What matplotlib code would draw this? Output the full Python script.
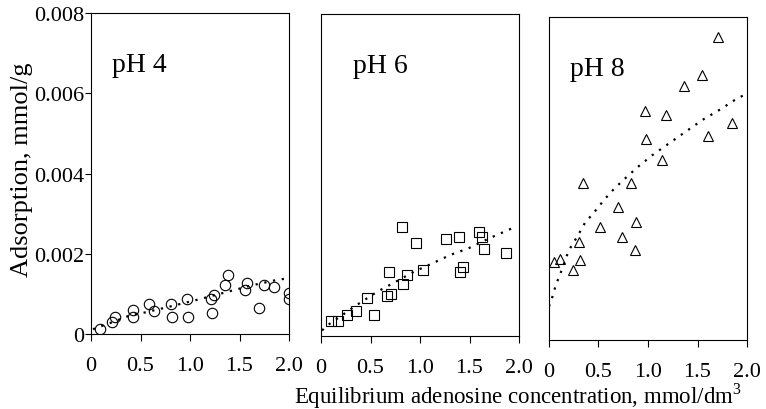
import matplotlib
matplotlib.use("Agg")
import matplotlib.pyplot as plt

plt.rcParams['font.family'] = ['Liberation Serif', 'DejaVu Serif']
plt.rcParams['mathtext.fontset'] = 'custom'
plt.rcParams['mathtext.rm'] = 'Liberation Serif'

# pH 4 (circles)
x4 = [0.09, 0.21, 0.24, 0.42, 0.42, 0.59, 0.64, 0.81, 0.82, 0.97, 0.98,
      1.21, 1.22, 1.24, 1.35, 1.38, 1.56, 1.58, 1.70, 1.75, 1.85, 2.0, 2.0]
y4 = [0.00012, 0.00029, 0.00042, 0.00060, 0.00042, 0.00075, 0.00058, 0.00074,
      0.00042, 0.00087, 0.00042, 0.00087, 0.00052, 0.00098, 0.00122, 0.00146,
      0.00110, 0.00126, 0.00065, 0.00121, 0.00116, 0.00101, 0.00087]
fit4_x = [0.02, 0.2, 0.4, 0.55, 0.74, 1.1, 1.36, 1.62, 1.88, 2.0]
fit4_y = [0.00012, 0.00028, 0.00047, 0.00054, 0.00065, 0.00087, 0.00104, 0.00121, 0.00135, 0.00139]

# pH 6 (squares)
x6 = [0.10, 0.175, 0.26, 0.35, 0.46, 0.54, 0.67, 0.71, 0.69, 0.83, 0.87,
      0.82, 0.96, 1.03, 1.26, 1.39, 1.40, 1.43, 1.60, 1.63, 1.65, 1.87]
y6 = [0.00037, 0.00037, 0.00052, 0.00062, 0.00094, 0.00052, 0.00100, 0.00105,
      0.00159, 0.00130, 0.00152, 0.00270, 0.00232, 0.00165, 0.00242, 0.00247,
      0.00159, 0.00172, 0.00258, 0.00247, 0.00217, 0.00206]
fit6_x = [0.01, 0.09, 0.185, 0.36, 0.56, 0.74, 0.94, 1.12, 1.31, 1.49, 1.70, 1.96]
fit6_y = [0.00014, 0.00031, 0.00047, 0.00077, 0.00109, 0.00133, 0.00160, 0.00180,
          0.00202, 0.00218, 0.00243, 0.00271]

# pH 8 (triangles)
x8 = [1.71, 1.55, 1.36, 0.97, 1.18, 1.85, 0.98, 1.61, 1.14, 0.34, 0.83,
      0.70, 0.88, 0.52, 0.74, 0.30, 0.87, 0.11, 0.05, 0.31, 0.24]
y8 = [0.00750, 0.00656, 0.00628, 0.00566, 0.00557, 0.00537, 0.00497, 0.00505,
      0.00445, 0.00389, 0.00389, 0.00329, 0.00291, 0.00281, 0.00254, 0.00242,
      0.00222, 0.00200, 0.00192, 0.00199, 0.00174]
fit8_x = [0.0, 0.04, 0.07, 0.11, 0.2, 0.29, 0.37, 0.44, 0.50, 0.62, 0.75,
          0.89, 1.04, 1.19, 1.37, 1.55, 1.73, 1.90, 2.0]
fit8_y = [0.00083, 0.00111, 0.00137, 0.00161, 0.00222, 0.00258, 0.00293, 0.00311,
          0.00330, 0.00365, 0.00396, 0.00427, 0.00457, 0.00483, 0.00514, 0.00545,
          0.00571, 0.00598, 0.00610]

panels = [
    ("pH 4", x4, y4, fit4_x, fit4_y, 'o', 7.5, [0.1188, 0.1829, 0.2585, 0.7829]),
    ("pH 6", x6, y6, fit6_x, fit6_y, 's', 6.5, [0.4191, 0.1780, 0.2585, 0.7850]),
    ("pH 8", x8, y8, fit8_x, fit8_y, '^', 7.5, [0.7167, 0.1683, 0.2585, 0.7880]),
]

fig = plt.figure(figsize=(7.66, 4.10), dpi=100)

for i, (name, xs, ys, fx, fy, mk, ms, pos) in enumerate(panels):
    ax = fig.add_axes(pos)
    ax.plot(fx, fy, color='black', linestyle=(0, (1, 3)), linewidth=1.6)
    ax.plot(xs, ys, linestyle='none', marker=mk, markersize=ms,
            markerfacecolor='none', markeredgecolor='black', markeredgewidth=0.8)
    ax.set_xlim(0, 2.0)
    ax.set_ylim(0, 0.008)
    ax.set_xticks([0, 0.5, 1.0, 1.5, 2.0])
    ax.set_xticklabels(["0", "0.5", "1.0", "1.5", "2.0"])
    ax.tick_params(axis='x', direction='out', length=5, width=0.8, labelsize=16, pad=11)
    if i == 0:
        ax.set_yticks([0, 0.002, 0.004, 0.006, 0.008])
        ax.set_yticklabels(["0", "0.002", "0.004", "0.006", "0.008"])
        ax.tick_params(axis='y', direction='out', length=4, width=0.8, labelsize=16, pad=1)
    else:
        ax.set_yticks([])
    for sp in ax.spines.values():
        sp.set_linewidth(0.8)
    ax.text(0.106 if i != 1 else 0.16, 0.82, name, transform=ax.transAxes,
            fontsize=20, ha='left', va='baseline')

fig.text(0.029, 0.585, "Adsorption, mmol/g", rotation=90, fontsize=19,
         ha='center', va='center')
fig.text(0.6756, 0.034, "Equilibrium adenosine concentration, mmol/dm$^3$",
         fontsize=16.5, ha='center', va='center')

fig.savefig("out.png", dpi=100)
